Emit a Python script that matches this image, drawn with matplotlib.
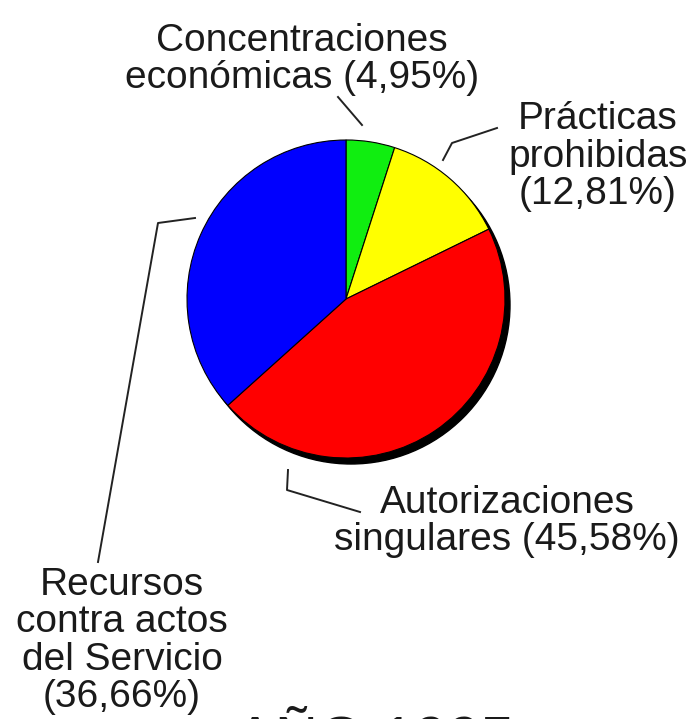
import matplotlib
matplotlib.use('Agg')
import matplotlib.pyplot as plt
from matplotlib.patches import Circle

# chart data
labels = ['Concentraciones\neconómicas (4,95%)',
          'Prácticas\nprohibidas\n(12,81%)',
          'Autorizaciones\nsingulares (45,58%)',
          'Recursos\ncontra actos\ndel Servicio\n(36,66%)']
shares = [4.95, 12.81, 45.58, 36.66]
colors = ['#10ee10', '#ffff00', '#ff0000', '#0000ff']
explode = [0.03, 0, 0, 0]
year_text = 'AÑO 1995'

W, H = 696, 719


def Y(py):
    # pixel row (from top) -> data y
    return H - py


plt.rcParams['font.family'] = ['Liberation Sans', 'DejaVu Sans']

fig = plt.figure(figsize=(W / 100, H / 100), dpi=100)
ax = fig.add_axes([0, 0, 1, 1])

cx, cy, r = 346, Y(299), 159

# drop shadow behind the pie
ax.add_patch(Circle((cx + 5, cy - 6), r, color='black', zorder=1))

wedges, _ = ax.pie(shares, colors=colors, explode=explode, startangle=90,
                   counterclock=False, center=(cx, cy), radius=r,
                   wedgeprops=dict(edgecolor='black', linewidth=0.8))
for w in wedges:
    w.set_zorder(2)

ax.set_xlim(0, W)
ax.set_ylim(0, H)
ax.set_aspect('auto')
ax.axis('off')

# va='baseline' on multi-line text pins the last line's baseline
txt = dict(fontsize=28, color='#1a1a1a', ha='center', va='baseline',
           linespacing=1.05)
ax.text(302, Y(88), labels[0], **txt)
ax.text(598, Y(204), labels[1], **txt)
ax.text(507, Y(550), labels[2], **txt)
ax.text(122, Y(707), labels[3], **txt)

# leader lines
lk = dict(color='#222222', lw=1.4, zorder=3)
ax.plot([338, 362], [Y(97), Y(125)], **lk)
ax.plot([443, 452, 497], [Y(160), Y(143), Y(128)], **lk)
ax.plot([195, 158, 98], [Y(218), Y(223), Y(562)], **lk)
ax.plot([288, 287, 360], [Y(470), Y(490), Y(512)], **lk)

# year caption, mostly cut by the bottom edge
ax.text(375, Y(757), year_text, fontsize=43, color='#1a1a1a',
        ha='center', va='baseline', clip_on=False)

fig.savefig('out.png', dpi=100)
